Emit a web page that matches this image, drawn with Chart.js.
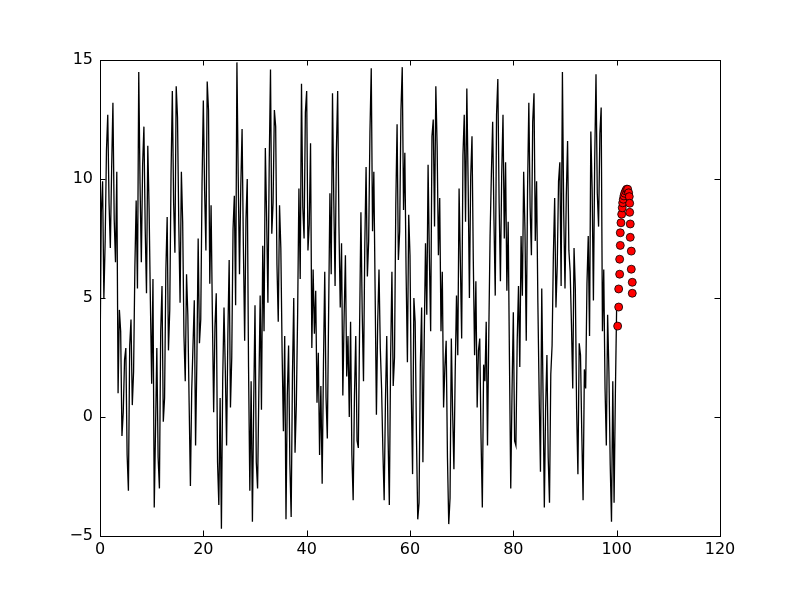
<!DOCTYPE html>
<html>
<head>
<meta charset="utf-8">
<script src="https://cdn.jsdelivr.net/npm/chart.js@4.4.0/dist/chart.umd.min.js"></script>
<style>
  html, body { margin: 0; padding: 0; background: #fff; }
  #wrap { width: 800px; height: 596px; }
</style>
</head>
<body>
<div id="wrap"><canvas id="chart" width="800" height="596"></canvas></div>
<script>
'use strict'

// black noisy signal, one value every lineStep along x (starting at 0)
const lineStep = 0.25
const lineY = [
    2.3, 8.6, 9.9, 5.0, 7.4, 11.2, 12.7, 9.0, 7.1, 10.4, 13.2, 8.3, 6.5, 10.3, 1.0, 4.5, 3.6, -0.8, 0.2, 2.4,
    2.9, -1.6, -3.1, 3.0, 4.1, 0.5, 1.9, 6.3, 9.1, 5.4, 14.5, 9.8, 6.5, 10.6, 12.2, 7.9, 5.2, 11.4, 8.8, 4.9,
    1.4, 5.8, -3.8, -0.5, 2.9, -1.7, -3.0, 3.6, 5.5, -0.2, 0.8, 6.2, 8.4, 2.8, 4.5, 10.2, 13.7, 9.0, 6.9, 13.9,
    12.6, 8.1, 4.8, 10.3, 8.2, 3.4, 1.5, 6.0, 4.3, 0.6, -2.9, 1.1, 3.0, 4.9, -1.2, 2.4, 7.5, 3.1, 4.1, 9.8,
    13.3, 9.5, 7.0, 14.1, 12.9, 5.6, 8.9, 4.3, 0.2, 3.8, 5.2, -1.9, -3.7, 0.8, -4.7, 1.6, 4.6, 2.0, -1.2, 3.5,
    6.6, 0.4, 2.5, 7.9, 9.3, 4.7, 14.9, 10.1, 6.0, 9.7, 12.1, 7.2, 3.2, 8.3, 10.0, 2.1, -3.1, 1.5, -4.4, 0.6,
    4.7, -1.9, -3.0, 1.2, 5.1, 0.3, 7.2, 3.6, 11.3, 8.4, 4.8, 10.6, 14.6, 7.7, 9.0, 12.9, 12.2, 6.4, 4.0, 8.9,
    7.1, 2.7, -0.6, 3.4, -4.3, 0.9, 3.0, -2.0, -4.2, 1.8, 5.0, -1.5, 0.5, 4.3, 9.6, 5.8, 14.0, 8.8, 7.5, 12.8,
    13.7, 7.0, 8.1, 11.5, 2.9, 6.2, 3.5, 5.3, 0.6, 2.7, -1.6, 1.3, -2.8, 2.2, 6.1, 0.8, -0.9, 4.4, 9.4, 6.0,
    13.6, 9.1, 5.5, 11.2, 13.7, 8.0, 4.6, 7.3, 0.9, 4.2, 6.8, 1.7, 3.4, 0.0, 4.0, -1.6, -3.5, 0.9, 3.4, -1.0,
    -1.3, 3.9, 8.6, 4.4, 1.5, 7.2, 10.5, 5.9, 7.4, 12.0, 14.65, 7.8, 10.3, 5.3, 0.1, 4.0, 6.2, 2.9, 1.2, -1.4,
    -3.5, 0.7, 3.4, -0.8, -3.7, 2.5, 6.1, 1.3, 2.5, 8.9, 12.3, 6.6, 7.8, 12.9, 14.7, 8.7, 11.1, 6.0, 2.3, 8.5,
    6.8, 1.0, -2.4, 5.0, 4.0, -0.8, -4.3, -3.6, 2.2, 4.6, -1.9, 3.2, 7.3, 4.3, 10.6, 6.7, 3.6, 11.8, 12.5, 8.0,
    13.9, 11.4, 6.8, 9.2, 3.6, 6.1, 0.4, 2.1, 3.2, -1.7, -4.5, -3.4, 3.3, 0.2, -2.2, 1.9, 5.1, 2.6, 9.6, 6.5,
    3.3, 11.0, 12.7, 8.2, 13.8, 9.9, 5.0, 10.1, 11.8, 6.6, 2.6, 5.7, 0.4, 2.8, 3.3, -0.9, -3.8, 2.2, 1.5, 4.0,
    -1.2, 3.5, 7.6, 10.2, 12.4, 8.3, 5.1, 12.7, 14.2, 9.0, 5.7, 10.2, 12.7, 7.5, 10.7, 5.3, 8.2, 2.4, -3.0, 1.1,
    4.4, -1.0, -1.2, 3.2, 5.5, 2.1, 7.6, 5.1, 10.3, 7.9, 3.2, 9.5, 13.2, 8.8, 6.8, 12.4, 13.6, 7.4, 9.9, 4.8,
    0.9, -2.3, 5.4, 1.0, -3.8, 0.4, 2.6, -1.7, -3.6, 1.8, 3.0, 6.8, 9.2, 4.6, 6.4, 9.9, 10.7, 5.5, 14.5, 8.6,
    5.4, 9.3, 11.6, 7.0, 6.1, 3.9, 1.2, 7.1, 5.4, 0.3, -2.4, 3.1, 2.6, -0.7, -3.5, 2.0, 1.2, 5.6, 7.6, 3.4,
    12.0, 9.6, 4.9, 10.8, 14.4, 9.4, 8.0, 11.9, 13.0, 3.6, 6.2, 1.2, -1.2, 4.3, 1.9, -2.0, -4.4, 1.5, -3.6, 1.0,
    4.7
]

// red markers after x = 100
const dotX = [100.19, 100.39, 100.39, 100.58, 100.58, 100.70, 100.70, 100.83, 100.97, 101.08,
    101.16, 101.28, 101.41, 101.55, 101.74, 101.93, 102.13,
    102.32, 102.44, 102.52, 102.52, 102.63, 102.63, 102.83, 102.83, 103.02, 103.02]
const dotY = [3.82, 4.62, 5.38, 6.00, 6.63, 7.21, 7.74, 8.16, 8.52, 8.79,
    9.00, 9.15, 9.29, 9.40, 9.50, 9.57, 9.57,
    9.42, 9.26, 8.98, 8.60, 8.11, 7.55, 6.97, 6.21, 5.66, 5.20]

const xTicks = [0, 20, 40, 60, 80, 100, 120]
const yTicks = [-5, 0, 5, 10, 15]

const linePoints = lineY.map((y, i) => ({x: i * lineStep, y: y}))
const dotPoints = dotX.map((x, i) => ({x: x, y: dotY[i]}))

const tickFont = {family: 'DejaVu Sans', size: 16}
const minus = v => String(v).replace('-', '\u2212')

// matplotlib-like box with inward ticks on all four sides
const framePlugin = {
    id: 'frame',
    afterDatasetsDraw(chart) {
        const {ctx, chartArea: a, scales} = chart
        const len = 5.5
        ctx.save()
        ctx.strokeStyle = '#000'
        ctx.lineWidth = 1
        ctx.beginPath()
        for (const v of xTicks) {
            const px = Math.round(scales.x.getPixelForValue(v)) + 0.5
            ctx.moveTo(px, a.bottom); ctx.lineTo(px, a.bottom - len)
            ctx.moveTo(px, a.top); ctx.lineTo(px, a.top + len)
        }
        for (const v of yTicks) {
            const py = Math.round(scales.y.getPixelForValue(v)) + 0.5
            ctx.moveTo(a.left, py); ctx.lineTo(a.left + len, py)
            ctx.moveTo(a.right, py); ctx.lineTo(a.right - len, py)
        }
        ctx.stroke()
        ctx.strokeRect(Math.round(a.left) + 0.5, Math.round(a.top) + 0.5,
            Math.round(a.right - a.left), Math.round(a.bottom - a.top))
        ctx.restore()
    }
}

const config = {
    type: 'line',
    data: {
        datasets: [
            {
                data: dotPoints,
                showLine: false,
                pointRadius: 4,
                pointBackgroundColor: '#ff0000',
                pointBorderColor: '#000',
                pointBorderWidth: 0.8,
                order: 1
            },
            {
                data: linePoints,
                borderColor: '#000',
                borderWidth: 1.3,
                pointRadius: 0,
                tension: 0,
                fill: false,
                order: 2
            }
        ]
    },
    options: {
        responsive: false,
        animation: false,
        devicePixelRatio: 1,
        layout: {padding: {left: 0, top: 60, right: 80, bottom: 0}},
        plugins: {legend: {display: false}, tooltip: {enabled: false}},
        scales: {
            x: {
                type: 'linear',
                min: 0,
                max: 120,
                afterBuildTicks: axis => { axis.ticks = xTicks.map(v => ({value: v})) },
                afterFit: scale => { scale.height = 60 },
                grid: {display: false, drawTicks: false},
                border: {display: false},
                ticks: {font: tickFont, color: '#000', padding: 4, maxRotation: 0, callback: minus}
            },
            y: {
                type: 'linear',
                min: -5,
                max: 15,
                afterBuildTicks: axis => { axis.ticks = yTicks.map(v => ({value: v})) },
                afterFit: scale => { scale.width = 100 },
                grid: {display: false, drawTicks: false},
                border: {display: false},
                ticks: {font: tickFont, color: '#000', padding: 7, callback: minus}
            }
        }
    },
    plugins: [framePlugin]
}

new Chart(document.getElementById('chart'), config)
</script>
</body>
</html>
